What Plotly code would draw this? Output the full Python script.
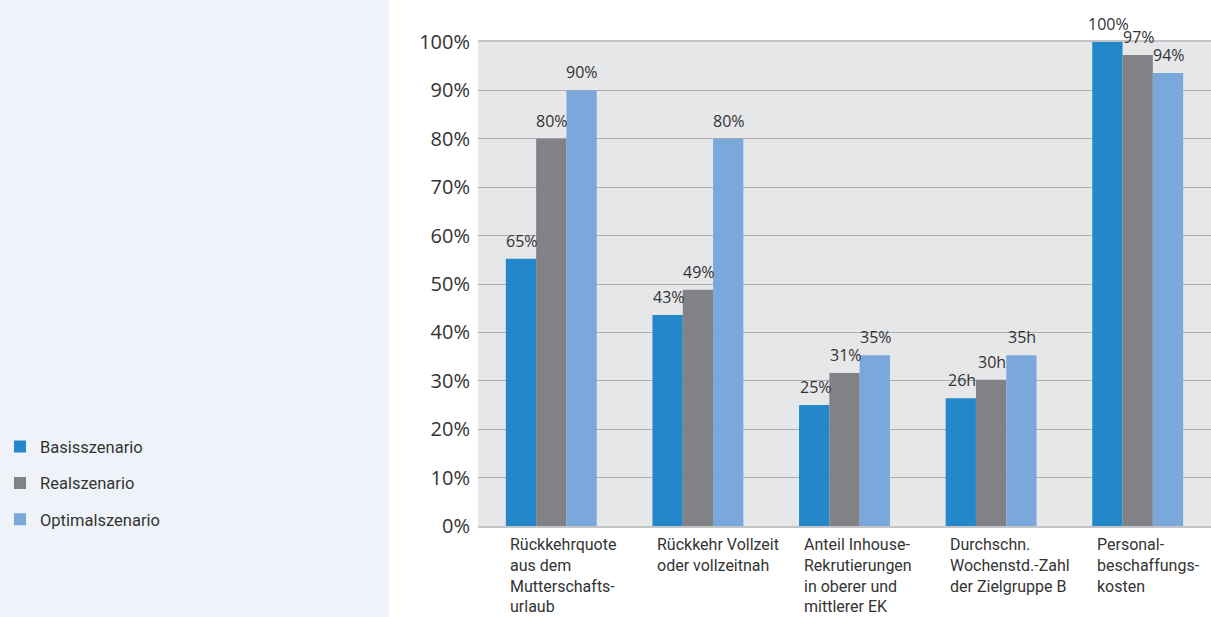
import plotly.graph_objects as go

categories = [
    "Rückkehrquote<br>aus dem<br>Mutterschafts-<br>urlaub",
    "Rückkehr Vollzeit<br>oder vollzeitnah",
    "Anteil Inhouse-<br>Rekrutierungen<br>in oberer und<br>mittlerer EK",
    "Durchschn.<br>Wochenstd.-Zahl<br>der Zielgruppe B",
    "Personal-<br>beschaffungs-<br>kosten",
]
series_names = ["Basisszenario", "Realszenario", "Optimalszenario"]
basis = [55.2, 43.6, 25.0, 26.4, 100.0]
real = [80.0, 48.8, 31.6, 30.2, 97.3]
optimal = [90.0, 80.0, 35.3, 35.3, 93.6]
basis_labels = ["65%", "43%", "25%", "26h", "100%"]
real_labels = ["80%", "49%", "31%", "30h", "97%"]
optimal_labels = ["90%", "80%", "35%", "35h", "94%"]
y_ticks = [0, 10, 20, 30, 40, 50, 60, 70, 80, 90, 100]
y_tick_text = [f"{v}%" for v in y_ticks]

colors = ["#2387C9", "#818285", "#7BA8DA"]
values = [basis, real, optimal]
labels = [basis_labels, real_labels, optimal_labels]

fig = go.Figure()
for i, (name, vals, col) in enumerate(zip(series_names, values, colors)):
    fig.add_trace(go.Bar(
        x=categories, y=vals, name=name, marker_color=col,
        marker_line_width=0, legendgroup=f"g{i}",
        hoverinfo="skip",
    ))

# data labels above bars
offsets = [-30, 0, 30]
annotations = []
for labs, vals, off in zip(labels, values, offsets):
    for c, v, t in zip(categories, vals, labs):
        annotations.append(dict(
            x=c, y=v, xref="x", yref="y", text=t, showarrow=False,
            xshift=off + 1, yshift=5, yanchor="bottom", xanchor="center",
            font=dict(family="Open Sans", size=16, color="#333333"),
        ))
# category labels (left aligned)
for c in categories:
    annotations.append(dict(
        x=c, y=0, xref="x", yref="paper", text=c, showarrow=False,
        xshift=-43, yshift=-7, xanchor="left", yanchor="top", align="left",
        font=dict(family="Roboto", size=16, color="#333333"),
    ))

fig.update_layout(
    width=1211, height=617,
    margin=dict(l=477, r=0, t=42, b=91),
    paper_bgcolor="white",
    plot_bgcolor="#E6E7E9",
    barmode="group", bargap=0.38, bargroupgap=0,
    showlegend=True,
    legend=dict(
        x=-0.6525, y=0.20, xanchor="left", yanchor="top",
        font=dict(family="Roboto", size=16.5, color="#333333"),
        tracegroupgap=12, bgcolor="rgba(0,0,0,0)",
    ),
    annotations=annotations,
    shapes=[dict(
        type="rect", xref="paper", yref="paper",
        x0=-0.66, x1=(388 - 477) / 734, y0=-0.2, y1=1.1,
        fillcolor="#EFF3F9", line_width=0, layer="below",
    )],
)
fig.update_xaxes(
    type="category", showticklabels=False, showgrid=False,
    showline=True, mirror=True, linecolor="#C4C4C6", linewidth=2,
    ticks="",
)
fig.update_yaxes(
    range=[0, 100], tickvals=y_ticks, ticktext=y_tick_text,
    showgrid=True, gridcolor="#ADADAF", gridwidth=1.4,
    zeroline=False, ticks="", ticklabelstandoff=7,
    tickfont=dict(family="Open Sans", size=20, color="#333333"),
)
fig.write_html("out.html")
